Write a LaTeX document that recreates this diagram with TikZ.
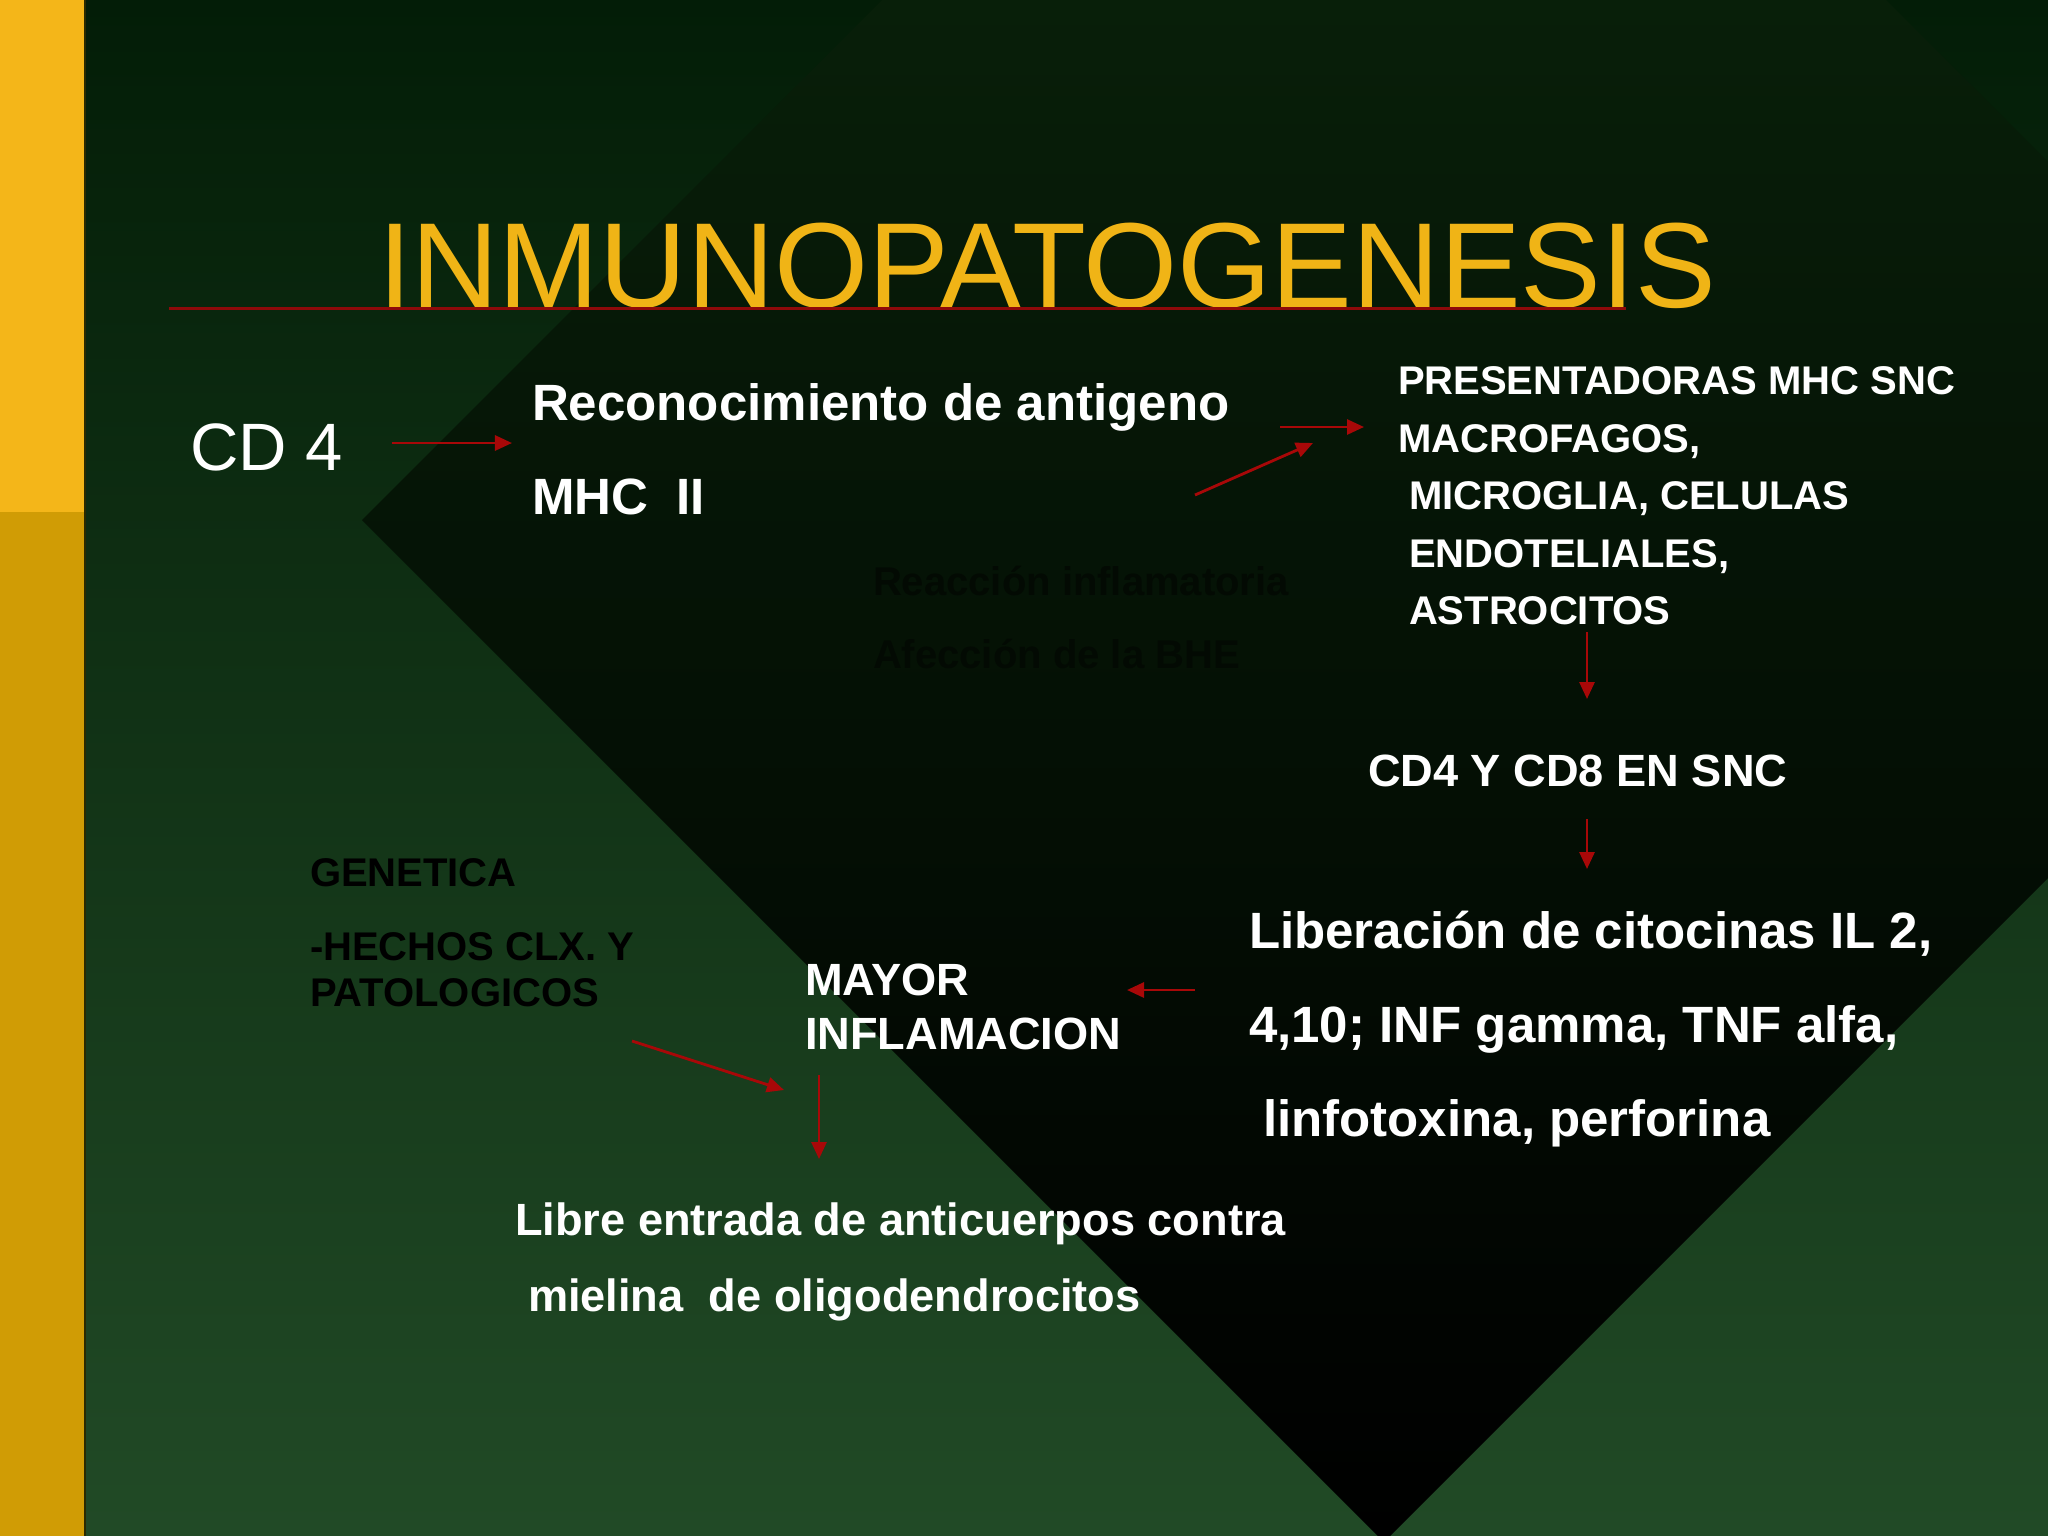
\documentclass[tikz,border=0pt]{standalone}
\usepackage{fontspec}
\setmainfont{Liberation Sans}
\usetikzlibrary{arrows.meta}
\definecolor{titleyel}{HTML}{F0B416}
\definecolor{baryel}{HTML}{F4B619}
\definecolor{bargold}{HTML}{D09C05}
\definecolor{bgtop}{HTML}{031D07}
\definecolor{bgbot}{HTML}{214A26}
\definecolor{dmtop}{HTML}{081F09}
\definecolor{dmmid}{HTML}{040B04}
\definecolor{dmbot}{HTML}{000000}
\definecolor{arrred}{HTML}{A80808}
\definecolor{linered}{HTML}{8E0A0A}
\definecolor{faint}{HTML}{030A03}
\definecolor{barline}{HTML}{2A2A00}
\begin{document}
\begin{tikzpicture}[x=0.01cm,y=-0.01cm,
  lbl/.style={anchor=base west,inner sep=0pt,outer sep=0pt,text=white},
  bigtxt/.style={lbl,font=\bfseries\fontsize{14.51}{14.51}\selectfont},
  midtxt/.style={lbl,font=\bfseries\fontsize{12.85}{12.85}\selectfont},
  smalltxt/.style={lbl,font=\bfseries\fontsize{11.38}{11.38}\selectfont},
  conn/.style={draw=arrred,line width=0.028cm,-{Triangle[length=0.17cm,width=0.15cm]}},
]
\useasboundingbox (0,0) rectangle (2048,1536);
% background
\shade[top color=bgtop,bottom color=bgbot] (0,0) rectangle (2048,1536);
\begin{scope}
  \clip (362,520) -- (1384,-502) -- (2406,520) -- (1384,1542) -- cycle;
  \shade[top color=dmtop,middle color=dmmid,bottom color=dmbot] (0,0) rectangle (2048,1536);
\end{scope}
% left bar
\fill[baryel] (0,0) rectangle (85,512);
\fill[bargold] (0,512) rectangle (85,1536);
\draw[barline,line width=0.02cm] (85,0) -- (85,1536);
% title
\node[lbl,text=titleyel,font=\fontsize{34.4}{34.4}\selectfont] (title) at (378,307) {INMUNOPATOGENESIS};
\coordinate (ul1) at (169,308);
\coordinate (ul2) at (1626,308);
\draw[linered,line width=0.03cm] (ul1) -- (ul2);
% texts
\node[lbl,font=\fontsize{19.06}{19.06}\selectfont] (cd4) at (190,470) {CD 4};
\node[bigtxt] (recon) at (532,420) {Reconocimiento de antigeno};
\node[bigtxt] (mhc) at (532,514) {MHC\ \ II};
\node[smalltxt] (pres1) at (1398,394) {PRESENTADORAS MHC SNC};
\node[smalltxt] (pres2) at (1398,452) {MACROFAGOS,};
\node[smalltxt] (pres3) at (1409,509) {MICROGLIA, CELULAS};
\node[smalltxt] (pres4) at (1409,567) {ENDOTELIALES,};
\node[smalltxt] (pres5) at (1409,624) {ASTROCITOS};
\node[smalltxt,text=faint] (reac) at (873,595) {Reacción inflamatoria};
\node[smalltxt,text=faint] (afec) at (873,668) {Afección de la BHE};
\node[midtxt] (cd48) at (1368,786) {CD4 Y CD8 EN SNC};
\node[bigtxt] (lib1) at (1249,948) {Liberación de citocinas IL 2,};
\node[bigtxt] (lib2) at (1249,1042) {4,10; INF gamma, TNF alfa,};
\node[bigtxt] (lib3) at (1263,1136) {linfotoxina, perforina};
\node[midtxt] (mayor) at (805,995) {MAYOR};
\node[midtxt] (infl) at (805,1049) {INFLAMACION};
\node[smalltxt,text=black] (gen1) at (310,886) {GENETICA};
\node[smalltxt,text=black] (gen2) at (310,960) {-HECHOS CLX. Y};
\node[smalltxt,text=black] (gen3) at (310,1006) {PATOLOGICOS};
\node[midtxt] (libre1) at (515,1235) {Libre entrada de anticuerpos contra};
\node[midtxt] (libre2) at (528,1311) {mielina\ \ de oligodendrocitos};
% arrows
\coordinate (a1s) at (392,443);  \coordinate (a1e) at (512,443);
\coordinate (a2s) at (1280,427); \coordinate (a2e) at (1364,427);
\coordinate (a3s) at (1195,495); \coordinate (a3e) at (1313,443);
\coordinate (a4s) at (1587,632); \coordinate (a4e) at (1587,699);
\coordinate (a5s) at (1587,819); \coordinate (a5e) at (1587,869);
\coordinate (a6s) at (1195,990); \coordinate (a6e) at (1127,990);
\coordinate (a7s) at (632,1041); \coordinate (a7e) at (784,1090);
\coordinate (a8s) at (819,1075); \coordinate (a8e) at (819,1159);
\draw[conn] (a1s) -- (a1e);
\draw[conn] (a2s) -- (a2e);
\draw[conn] (a3s) -- (a3e);
\draw[conn] (a4s) -- (a4e);
\draw[conn] (a5s) -- (a5e);
\draw[conn] (a6s) -- (a6e);
\draw[conn] (a7s) -- (a7e);
\draw[conn] (a8s) -- (a8e);
\end{tikzpicture}
\end{document}
